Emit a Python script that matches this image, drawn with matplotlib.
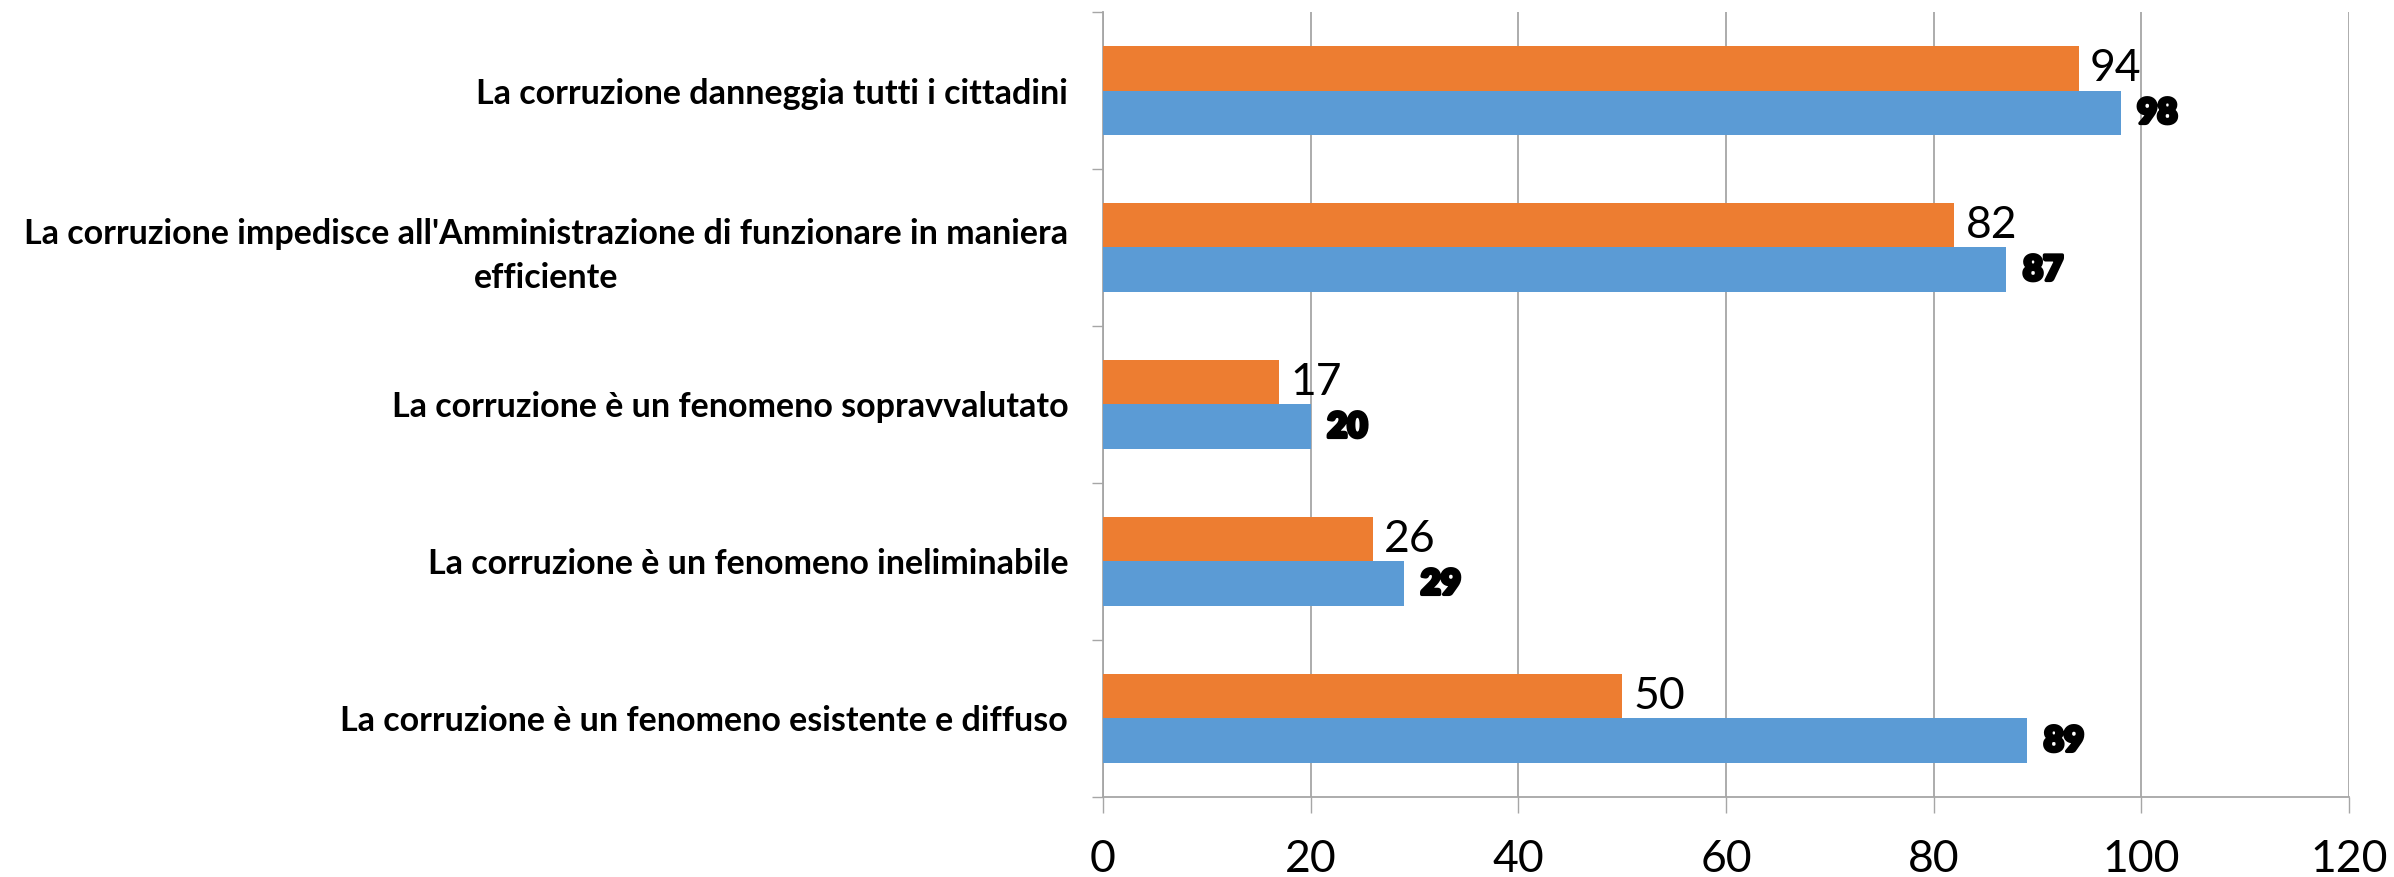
import matplotlib
matplotlib.use("Agg")
import matplotlib.pyplot as plt
import matplotlib.patheffects as pe
import numpy as np

# dati (dall'alto verso il basso)
categories = [
    "La corruzione danneggia tutti i cittadini",
    "La corruzione impedisce all'Amministrazione di funzionare in maniera\nefficiente",
    "La corruzione è un fenomeno sopravvalutato",
    "La corruzione è un fenomeno ineliminabile",
    "La corruzione è un fenomeno esistente e diffuso",
]
serie_arancio = [94, 82, 17, 26, 50]
serie_blu = [98, 87, 20, 29, 89]
x_ticks = [0, 20, 40, 60, 80, 100, 120]

plt.rcParams['font.family'] = ['Lato', 'DejaVu Sans']

fig = plt.figure(figsize=(23.94, 8.77), dpi=100)
ax = fig.add_axes([0.4607, 0.0913, 0.5205, 0.895])

y = np.arange(len(categories))
h = 0.285
ax.barh(y - h / 2, serie_arancio, height=h, color='#ED7D31', zorder=3)
ax.barh(y + h / 2, serie_blu, height=h, color='#5B9BD5', zorder=3)

for yi, v in zip(y, serie_arancio):
    ax.annotate(str(v), (v, yi - h / 2), xytext=(8, 0), textcoords='offset points',
                va='center', ha='left', fontsize=32, color='black')
for yi, v in zip(y, serie_blu):
    ax.annotate(str(v), (v, yi + h / 2), xytext=(12, 0), textcoords='offset points',
                va='center', ha='left', fontsize=25, fontweight='heavy', color='black',
                path_effects=[pe.withStroke(linewidth=2.5, foreground='black')])

ax.set_ylim(len(categories) - 0.5, -0.5)
ax.set_xlim(0, 120)
ax.set_xticks(x_ticks)
ax.set_xticklabels([str(t) for t in x_ticks], fontsize=32)
ax.tick_params(axis='x', length=11.5, width=1, color='#A6A6A6', pad=19)

ax.set_yticks(y)
ax.set_yticklabels(categories, fontsize=24.5, fontweight='bold', ma='center', linespacing=1.45)
ax.set_yticks(np.arange(len(categories) + 1) - 0.5, minor=True)
ax.tick_params(axis='y', which='major', length=0, pad=25)
ax.tick_params(axis='y', which='minor', length=8, width=1, color='#A6A6A6')

ax.grid(axis='x', color='#A6A6A6', linewidth=1.3, zorder=0)
for s in ['top', 'right']:
    ax.spines[s].set_visible(False)
for s in ['left', 'bottom']:
    ax.spines[s].set_color('#A6A6A6')
    ax.spines[s].set_linewidth(1.3)

fig.savefig('out.png', dpi=100)
